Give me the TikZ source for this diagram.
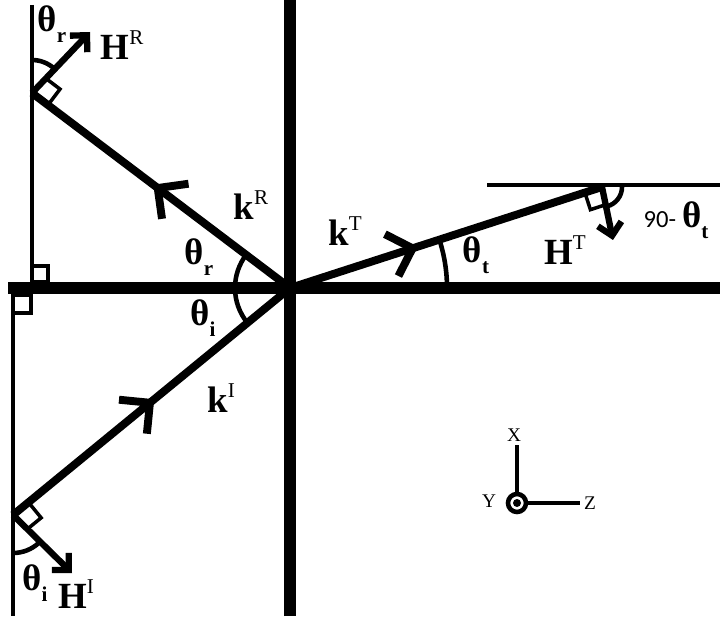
\documentclass[tikz,border=0pt]{standalone}
\usepackage{fontspec}
\setmainfont{Liberation Serif}
\newfontfamily\calibfont{Carlito}
\usetikzlibrary{arrows.meta, decorations.markings}
\newcommand{\Up}[1]{\raisebox{0.4em}{\mdseries\fontsize{12}{12}\selectfont #1}}
\newcommand{\Dn}[1]{\raisebox{-0.3em}{\fontsize{12}{12}\selectfont #1}}

\tikzset{
	axisline/.style={line width=6.8pt},
	thinline/.style={line width=2.6pt},
	ray/.style={line width=4.5pt},
	hvec/.style={line width=3.6pt, -{Straight Barb[length=0.24cm, width=0.48cm]}},
	sqmark/.style={line width=2pt},
	anglearc/.style={line width=2.6pt},
	midbarb/.style={postaction={decorate, decoration={markings,
		mark=at position #1 with {\arrow{Straight Barb[length=0.44cm, width=0.88cm]}}}}},
	lbl/.style={font=\fontsize{21}{21}\selectfont\bfseries, inner sep=0pt},
	axlbl/.style={font=\fontsize{11}{11}\selectfont, inner sep=0pt},
}

\begin{document}
\begin{tikzpicture}[x=0.02cm, y=0.02cm]
			\useasboundingbox (0,0) rectangle (720,616);
			
			% Points
			\coordinate (O) at (290,328);
			\coordinate (R) at (32,523);
			\coordinate (I) at (13,101);
			\coordinate (T) at (602,429);
			\coordinate (HR) at (90,584);
			\coordinate (HI) at (72,43);
			\coordinate (HT) at (613,376);
			
			% Interface and normal
			\draw[axisline] (290,0) -- (290,616);
			\draw[axisline] (8,328) -- (720,328);
			
			% Thin reference lines
			\draw[thinline] (32,611) -- (32,328);
			\draw[thinline] (13,328) -- (13,0);
			\draw[thinline] (487,431) -- (720,431);
			\draw[sqmark] (32,334) rectangle (48,350);
			\draw[sqmark] (13,303) rectangle (31,321);
			
			% Rays
			\draw[ray, midbarb=0.53] (O) -- (R);
			\draw[ray, midbarb=0.51] (I) -- (O);
			\draw[ray, midbarb=0.41] (O) -- (T);
			
			% Angles at the origin
			\draw[anglearc] (O) ++(180:55) arc[start angle=180, end angle=142.9, radius=55];
			\draw[anglearc] (O) ++(180:55) arc[start angle=180, end angle=219.3, radius=55];
			\draw[anglearc] (O) ++(0:157) arc[start angle=0, end angle=17.9, radius=157];
			
			% H vectors
			\draw[hvec] (R) -- (HR);
			\draw[hvec] (I) -- (HI);
			\draw[hvec] (T) -- (HT);
			\draw[sqmark] (R) ++(-37.1:20) -- ++(52.9:20) -- ++(142.9:20);
			\draw[sqmark] (I) ++(39.3:20) -- ++(-50.7:20) -- ++(-140.7:20);
			\draw[sqmark] (T) ++(197.9:18) -- ++(-72.1:18) -- ++(17.9:18);
			\draw[anglearc] (R) ++(90:33) arc[start angle=90, end angle=47, radius=33];
			\draw[anglearc] (I) ++(270:38) arc[start angle=270, end angle=312, radius=38];
			\draw[anglearc] (T) ++(0:20) arc[start angle=0, end angle=-74, radius=20];
			
			% Labels
			\node[lbl] (thr1) at (52,592) {θ\Dn{r}};
			\node[lbl] (hr) at (122,571) {H\Up{R}};
			\node[lbl] (kr) at (251,411) {k\Up{R}};
			\node[lbl] (thr2) at (199,359) {θ\Dn{r}};
			\node[lbl] (thi2) at (203,298) {θ\Dn{i}};
			\node[lbl] (ki) at (221,218) {k\Up{I}};
			\node[lbl] (kt) at (345,385) {k\Up{T}};
			\node[lbl] (tht) at (476,361) {θ\Dn{t}};
			\node[lbl] (ht) at (565,366) {H\Up{T}};
			\node[lbl] (compl) at (676,396) {{\calibfont\mdseries\fontsize{14}{14}\selectfont 90-}\,θ\Dn{t}};
			\node[lbl] (thi1) at (35,33) {θ\Dn{i}};
			\node[lbl] (hi) at (76,22) {H\Up{I}};
			
			% Axes
			\coordinate (C) at (517,113);
			\draw[line width=2.6pt] (C) circle (9);
			\fill (C) circle (4);
			\draw[line width=2.8pt] (517,122) -- (517,171);
			\draw[line width=2.8pt] (526,113) -- (580,113);
			\node[axlbl] (xl) at (514,181) {X};
			\node[axlbl] (yl) at (489,115) {Y};
			\node[axlbl] (zl) at (590,113) {Z};
			
		\end{tikzpicture}
\end{document}
